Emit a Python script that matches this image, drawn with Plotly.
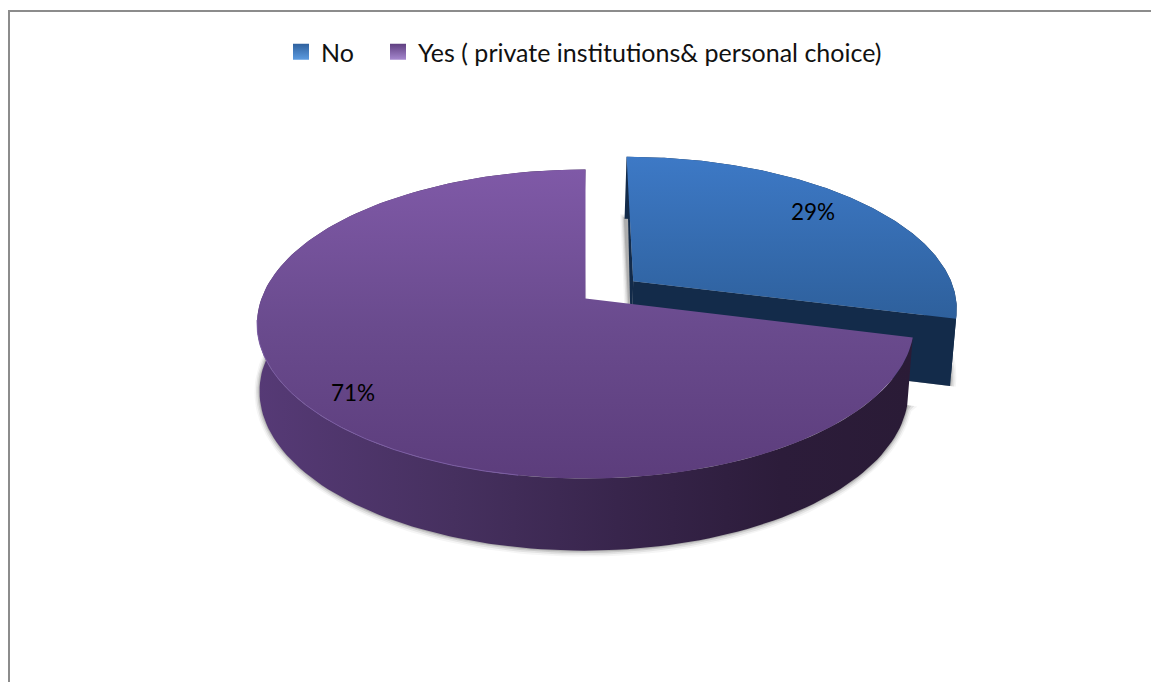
import numpy as np
import plotly.graph_objects as go

categories = ["No", "Yes ( private institutions& personal choice)"]
values = [29, 71]
labels = ["29%", "71%"]

W, H = 1151, 682
# perspective model of the tilted disc, in pixels
K = -0.165
TOP = dict(cx=585.5, cy=298.5, a=324.0, b=150.3)
BOT = dict(cx=584.0, cy=365.0, a=320.0, b=155.0)
EXPLODE = 0.19

def project(u, v, p, grow=0.0):
    d = 1 + K * v
    return p["cx"] + (p["a"] + grow) * u / d, p["cy"] + (p["b"] + grow) * v / d

def wedge(start, end, off, p, grow=0.0):
    """arc points in disc coordinates; angles in degrees clockwise from 12 o'clock"""
    t = np.radians(np.linspace(start, end, 160))
    return project(np.sin(t) + off[0], -np.cos(t) + off[1], p, grow)

no_end = 360 * values[0] / sum(values)
mid = np.radians(no_end / 2)
off_no = (EXPLODE * np.sin(mid), -EXPLODE * np.cos(mid))
off_yes = (0.0, 0.0)

def closed(ax, ay, apex):
    return np.r_[apex[0], ax, apex[0]], np.r_[apex[1], ay, apex[1]]

fig = go.Figure()

def poly(x, y, color=None, grad=None):
    kw = dict(fillgradient=grad) if grad else dict(fillcolor=color)
    fig.add_trace(go.Scatter(x=x, y=y, mode="lines", fill="toself", line=dict(width=0),
                             showlegend=False, hoverinfo="skip", **kw))

def shadow(start, end, off, cut_dx):
    for k, alpha in ((5, 0.05), (3.5, 0.09), (2, 0.14), (0.8, 0.2)):
        ax, ay = wedge(start, end, off, BOT, k)
        apex = project(off[0], off[1], BOT)
        sx = cut_dx * k
        first_x = ax[0] + sx if cut_dx > 0 else ax[0]
        last_x = ax[-1]
        if cut_dx < 0:
            first_x = ax[0] + sx
        x = np.r_[apex[0] + sx, first_x, ax[1:], last_x]
        y = np.r_[apex[1], ay, ay[-1]]
        poly(x, y, f"rgba(60,60,60,{alpha})")

# ---- "No" slice (exploded, drawn first)
shadow(0, no_end, off_no, -1)
tx, ty = wedge(0, no_end, off_no, TOP)
bx, by = wedge(0, no_end, off_no, BOT)
ta = project(*off_no, TOP)
ba = project(*off_no, BOT)
poly(np.r_[tx, bx[::-1]], np.r_[ty, by[::-1]], "#132B4A")
poly([ta[0], tx[-1], bx[-1], ba[0]], [ta[1], ty[-1], by[-1], ba[1]], "#132B4A")
poly([tx[0], ta[0], ba[0]], [ty[0], ta[1], ba[1]], "#132B4A")
x, y = closed(tx, ty, ta)
poly(x, y, grad=dict(type="vertical",
                     colorscale=[[0, "#2E609C"], [1, "#3D79C6"]]))

# ---- "Yes" slice
shadow(no_end, 360, off_yes, 1)
tx, ty = wedge(no_end, 360, off_yes, TOP)
bx, by = wedge(no_end, 360, off_yes, BOT)
ta = project(*off_yes, TOP)
poly(np.r_[tx, bx[::-1]], np.r_[ty, by[::-1]],
     grad=dict(type="horizontal",
               colorscale=[[0, "#563A76"], [0.3, "#46305F"], [0.55, "#38254C"],
                           [0.8, "#2C1C3A"], [1, "#2A1B36"]]))
x, y = closed(tx, ty, ta)
poly(x, y, grad=dict(type="vertical",
                     colorscale=[[0, "#5C3D7C"], [0.5, "#6A4B8E"], [1, "#7F59A7"]]))
# light rim on the front-left edge of the top face
rx, ry = wedge(190, 262, off_yes, TOP)
fig.add_trace(go.Scatter(x=rx, y=ry, mode="lines", line=dict(color="#7B5DA3", width=1),
                         showlegend=False, hoverinfo="skip"))

# ---- legend entries: one marker trace each, in separate legends
colors = ["#2F619E", "#5F3F80"]
tips = ["#5C9BE0", "#A688CF"]
for i, name in enumerate(categories):
    fig.add_trace(go.Scatter(
        x=[None], y=[None], mode="markers", name=name,
        legend="legend" if i == 0 else "legend2",
        marker=dict(symbol="square", size=16, color=colors[i],
                    gradient=dict(type="vertical", color=tips[i]))))

# ---- percent labels
LABEL_POS = [(813, 211.5), (352.5, 392.5)]
for txt, (px, py) in zip(labels, LABEL_POS):
    fig.add_annotation(x=px, y=py, text=txt, showarrow=False, xanchor="center", yanchor="middle",
                       font=dict(family="Lato", size=22.5, color="#000000"))

legend_font = dict(family="Lato", size=25, color="#111111")
fig.update_layout(
    width=W, height=H, autosize=False,
    margin=dict(l=0, r=0, t=0, b=0),
    paper_bgcolor="white", plot_bgcolor="white",
    xaxis=dict(range=[0, W], visible=False, fixedrange=True),
    yaxis=dict(range=[H, 0], visible=False, fixedrange=True),
    legend=dict(x=281 / W, y=1 - 29 / H, xanchor="left", yanchor="top", font=legend_font,
                bgcolor="rgba(0,0,0,0)", itemclick=False, itemdoubleclick=False),
    legend2=dict(x=378 / W, y=1 - 29 / H, xanchor="left", yanchor="top", font=legend_font,
                 bgcolor="rgba(0,0,0,0)", itemclick=False, itemdoubleclick=False),
    shapes=[
        dict(type="line", xref="x", yref="y", x0=9, x1=W, y0=11, y1=11,
             line=dict(color="#8C8C8C", width=2)),
        dict(type="line", xref="x", yref="y", x0=9, x1=9, y0=10, y1=H,
             line=dict(color="#8C8C8C", width=2)),
    ],
)
fig.write_html("out.html", config=dict(displayModeBar=False),
               post_script="document.body.style.margin='0';document.documentElement.style.overflow='hidden';")
